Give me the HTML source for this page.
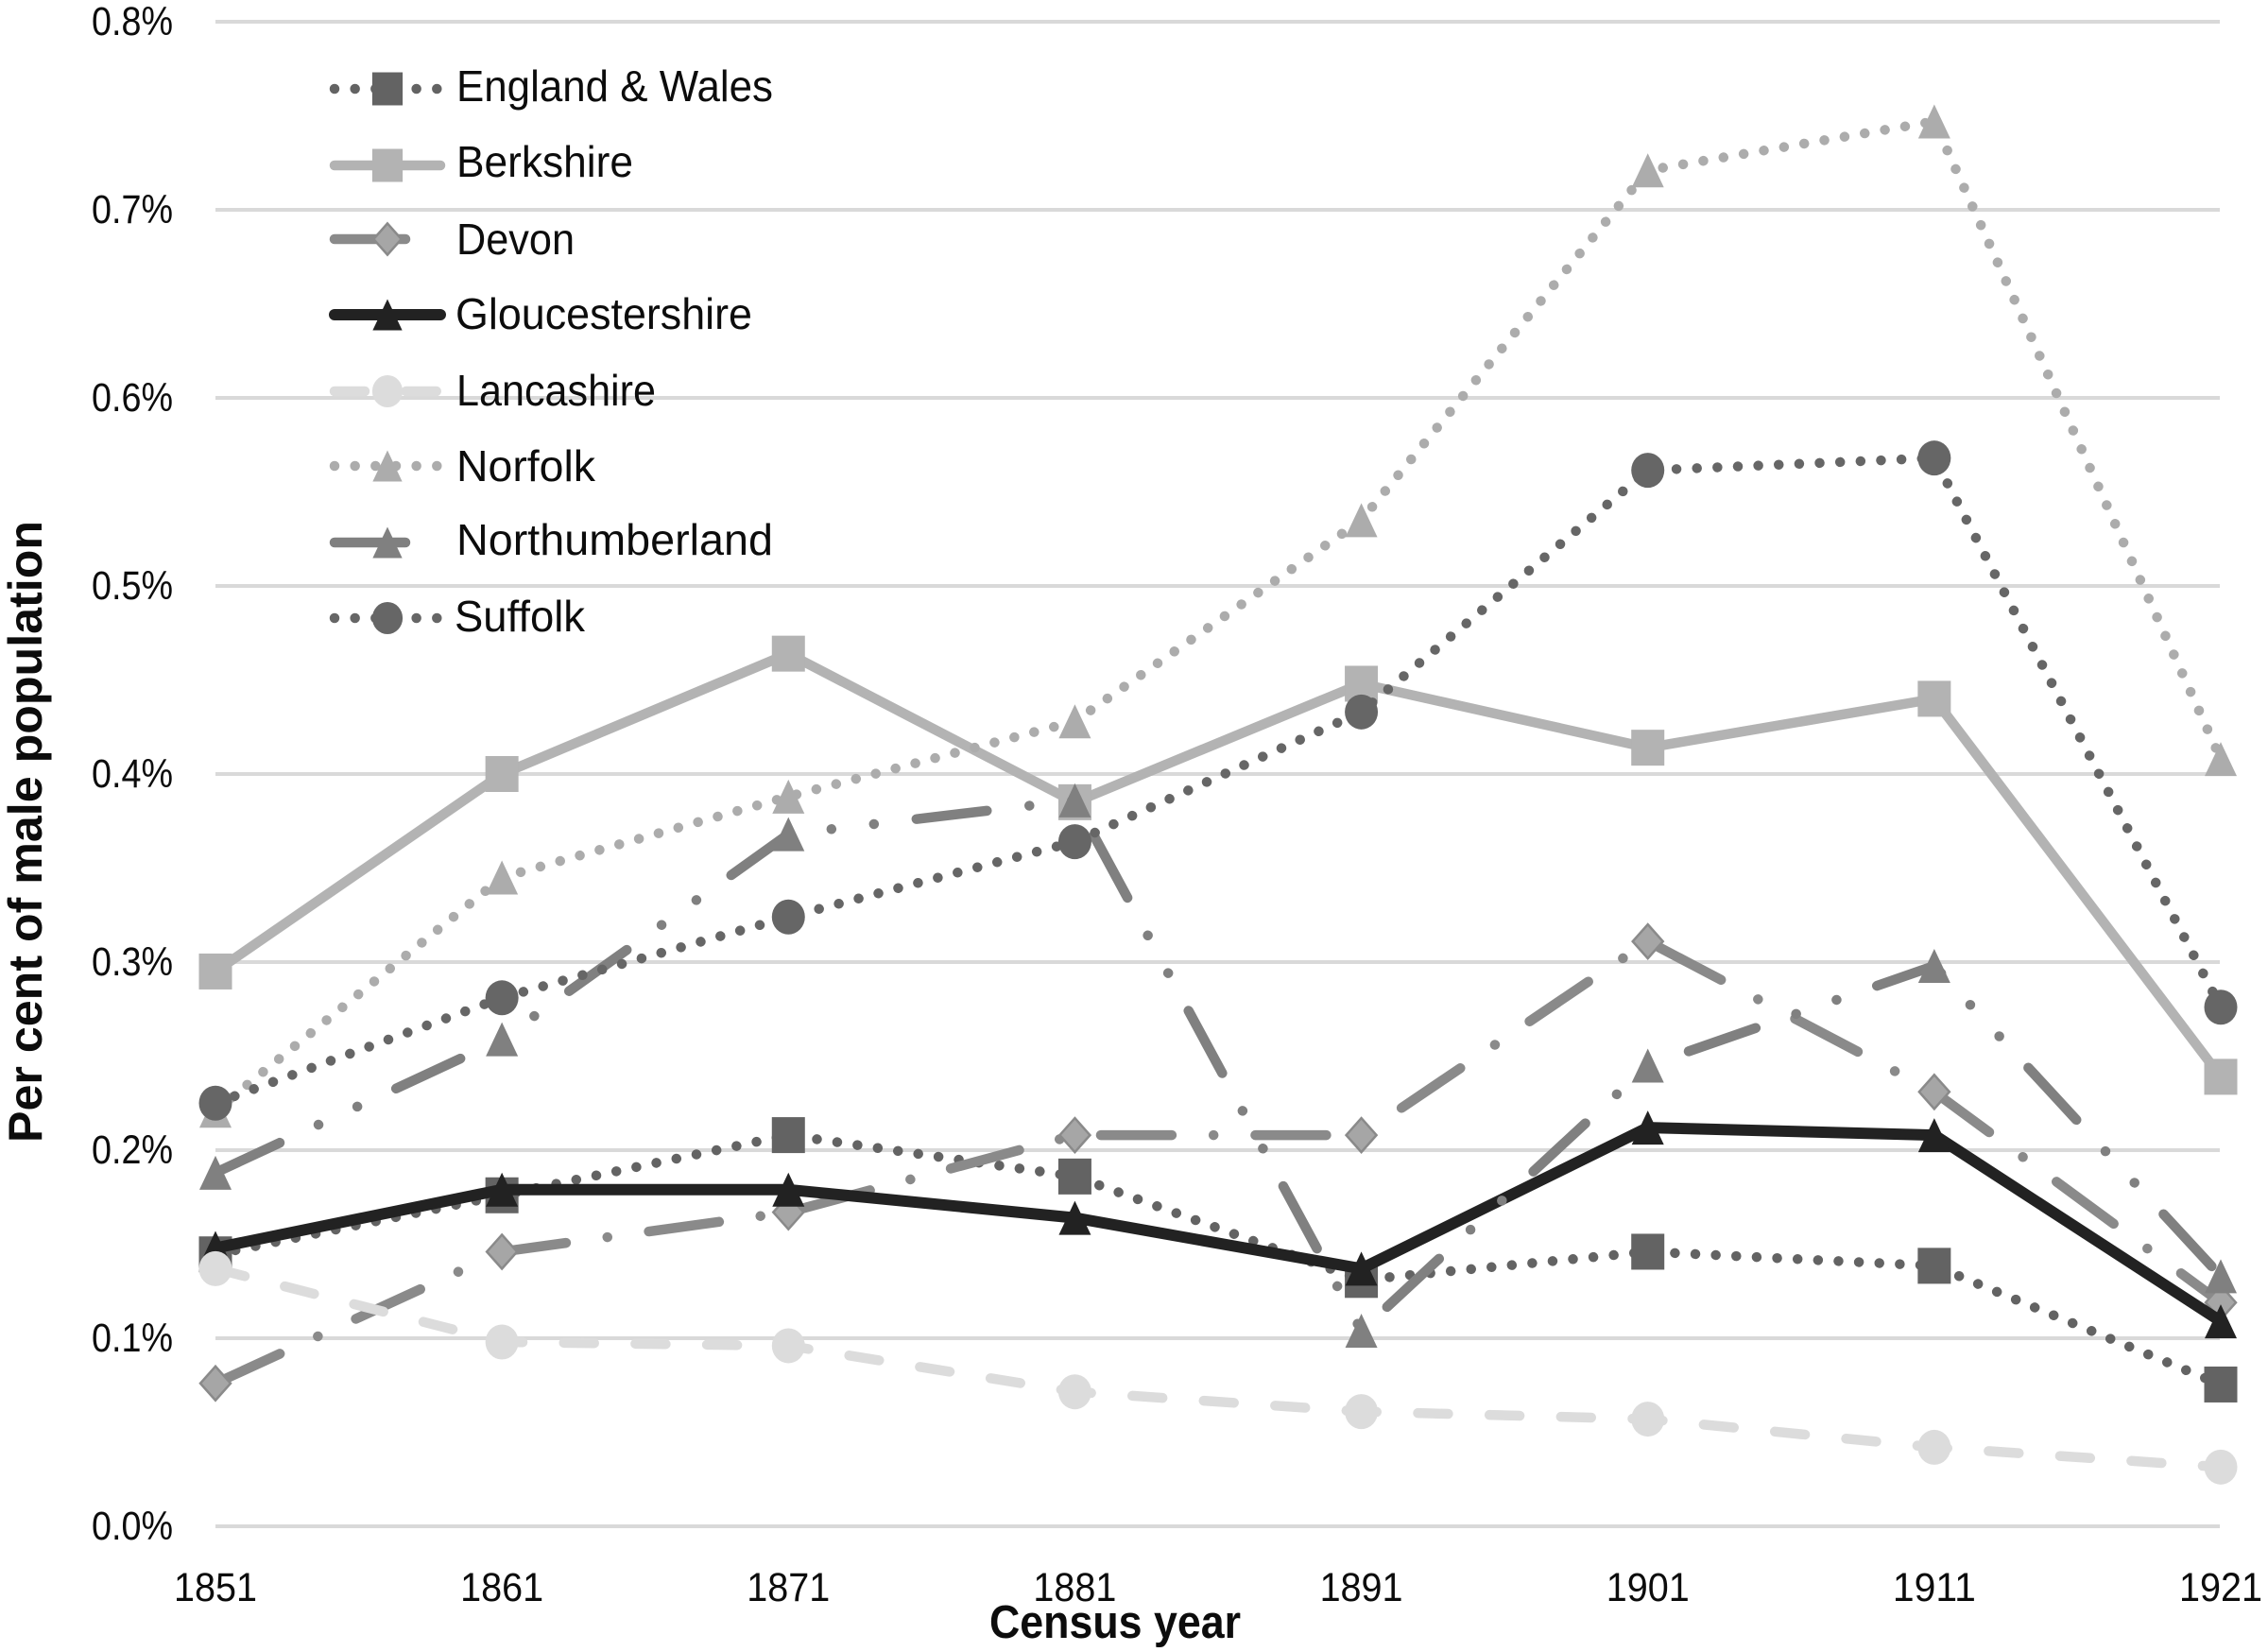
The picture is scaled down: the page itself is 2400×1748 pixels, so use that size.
<!DOCTYPE html>
<html lang="en">
<head>
<meta charset="utf-8">
<title>Per cent of male population by census year</title>
<style>
html,body{margin:0;padding:0;background:#fff;}
svg{display:block;}
text{font-family:"Liberation Sans",sans-serif;fill:#0c0c0c;}
</style>
</head>
<body>
<svg id="chart" xmlns="http://www.w3.org/2000/svg" width="2400" height="1748" viewBox="0 0 2400 1748">
<rect x="0" y="0" width="2400" height="1748" fill="#ffffff"/>
<g id="grid"></g>
<g id="yticks"></g>
<g id="xticks"></g>
<g id="series"></g>
<g id="legend"></g>
<text transform="translate(44 880) rotate(-90)" text-anchor="middle" font-size="50" font-weight="bold" textLength="658" lengthAdjust="spacingAndGlyphs">Per cent of male population</text>
<text x="1047" y="1733" font-size="49" font-weight="bold" textLength="266" lengthAdjust="spacingAndGlyphs">Census year</text>
</svg>
<script>
const categories = ["1851","1861","1871","1881","1891","1901","1911","1921"];
const yTicks = [0,0.1,0.2,0.3,0.4,0.5,0.6,0.7,0.8];
const yTickLabels = ["0.0%","0.1%","0.2%","0.3%","0.4%","0.5%","0.6%","0.7%","0.8%"];
const englandWales = [0.1446,0.176,0.208,0.186,0.131,0.146,0.1385,0.0754];
const berkshire = [0.295,0.40,0.464,0.385,0.448,0.414,0.44,0.239];
const devon = [0.076,0.146,0.167,0.208,0.208,0.311,0.231,0.119];
const gloucestershire = [0.148,0.179,0.179,0.164,0.137,0.212,0.208,0.109];
const lancashire = [0.137,0.098,0.096,0.0715,0.061,0.057,0.042,0.0315];
const norfolk = [0.221,0.345,0.388,0.428,0.535,0.721,0.747,0.408];
const northumberland = [0.188,0.259,0.368,0.386,0.104,0.245,0.298,0.133];
const suffolk = [0.225,0.281,0.324,0.364,0.433,0.5615,0.568,0.276];
const seriesNames = ["England & Wales","Berkshire","Devon","Gloucestershire","Lancashire","Norfolk","Northumberland","Suffolk"];

const NS = "http://www.w3.org/2000/svg";
const plot = {left:228,right:2350,top:23,bottom:1615,max:0.8};
function xScale(i){return plot.left+(plot.right-plot.left)*i/(categories.length-1);}
function yScale(v){return plot.bottom-(plot.bottom-plot.top)*v/plot.max;}

const DOT="0.01 21.65", DASHDOT="75 44.25 0.01 44.25", DASHDOTDOT="75 45.3 0.01 45.3 0.01 45.3", DASH="32 43.7";
const styles=[
 {vals:englandWales,color:"#636363",fill:"#636363",w:10.5,dash:DOT,m:"square"},
 {vals:berkshire,color:"#b3b3b3",fill:"#b3b3b3",w:10.5,dash:null,m:"square"},
 {vals:devon,color:"#8a8a8a",fill:"#a6a6a6",w:10.5,dash:DASHDOT,m:"diamond"},
 {vals:gloucestershire,color:"#222222",fill:"#222222",w:12,dash:null,m:"triangle"},
 {vals:lancashire,color:"#dcdcdc",fill:"#dcdcdc",w:10.5,dash:DASH,m:"circle"},
 {vals:norfolk,color:"#acacac",fill:"#acacac",w:10.5,dash:DOT,m:"triangle"},
 {vals:northumberland,color:"#808080",fill:"#808080",w:10.5,dash:DASHDOTDOT,m:"triangle"},
 {vals:suffolk,color:"#666666",fill:"#666666",w:10.5,dash:DOT,m:"circle"}
];
const legendBaselines=[107,187,269,348,429,509,587,668];
const legendLineY=[94,175,253,333,414,493,574,654];
const legendTextX=[483,483,483,482,483,483,483,481];
const legendTextW=[335,187,125,314,211,147,335,138];

function slug(s){return s.toLowerCase().replace(/[^a-z]+/g,"-");}

function drawMarker(parent,type,cx,cy,st,k,name){
  let el;
  if(type==="square"){
    el=document.createElementNS(NS,"rect");
    el.setAttribute("x",cx-17.5*k);
    el.setAttribute("y",cy-19*k);
    el.setAttribute("width",35*k);
    el.setAttribute("height",38*k);
  }else if(type==="circle"){
    el=document.createElementNS(NS,"ellipse");
    el.setAttribute("cx",cx);
    el.setAttribute("cy",cy);
    el.setAttribute("rx",17.5*k);
    el.setAttribute("ry",18.5*k);
  }else if(type==="diamond"){
    el=document.createElementNS(NS,"polygon");
    el.setAttribute("points",[cx,cy-18*k,cx+16*k,cy,cx,cy+18*k,cx-16*k,cy].join(" "));
    el.setAttribute("stroke",st.color);
    el.setAttribute("stroke-width",2.5);
  }else{
    el=document.createElementNS(NS,"polygon");
    el.setAttribute("points",[cx,cy-18*k,cx+17*k,cy+18*k,cx-17*k,cy+18*k].join(" "));
  }
  el.setAttribute("fill",st.fill);
  
  
  parent.appendChild(el);
}

function addLine(parent,pts,st,name){
  const p=document.createElementNS(NS,"polyline");
  p.setAttribute("points",pts);
  p.setAttribute("fill","none");
  p.setAttribute("stroke",st.color);
  p.setAttribute("stroke-width",st.w);
  p.setAttribute("stroke-linecap","round");
  p.setAttribute("stroke-linejoin","round");
  if(st.dash){p.setAttribute("stroke-dasharray",st.dash);}
  
  
  parent.appendChild(p);
}

function addText(parent,x,y,size,str,w,name){
  const t=document.createElementNS(NS,"text");
  t.setAttribute("x",x);
  t.setAttribute("y",y);
  t.setAttribute("font-size",size);
  t.setAttribute("textLength",w);
  t.setAttribute("lengthAdjust","spacingAndGlyphs");
  t.textContent=str;
  
  
  parent.appendChild(t);
}

const gridG=document.getElementById("grid");
const yG=document.getElementById("yticks");
yTicks.forEach(function(v,i){
  const l=document.createElementNS(NS,"line");
  l.setAttribute("x1",plot.left);
  l.setAttribute("x2",plot.right-1);
  l.setAttribute("y1",yScale(v));
  l.setAttribute("y2",yScale(v));
  l.setAttribute("stroke","#d9d9d9");
  l.setAttribute("stroke-width",4);
  
  
  gridG.appendChild(l);
  addText(yG,97,yScale(v)+14,43,yTickLabels[i],86,"y-tick-label-"+i);
});

const xG=document.getElementById("xticks");
categories.forEach(function(c,i){
  addText(xG,xScale(i)-44,1694,43,c,88,"x-tick-label-"+c);
});

const sG=document.getElementById("series");
styles.forEach(function(st,s){
  const g=document.createElementNS(NS,"g");
  
  
  sG.appendChild(g);
  const pts=st.vals.map(function(v,i){return xScale(i)+","+yScale(v);}).join(" ");
  addLine(g,pts,st,"line-"+slug(seriesNames[s]));
  st.vals.forEach(function(v,i){
    drawMarker(g,st.m,xScale(i),yScale(v),st,1,"marker-"+slug(seriesNames[s])+"-"+categories[i]);
  });
});

const lG=document.getElementById("legend");
styles.forEach(function(st,s){
  const g=document.createElementNS(NS,"g");
  
  
  lG.appendChild(g);
  const y=legendLineY[s];
  addLine(g,"354,"+y+" 466,"+y,st,"legend-line-"+slug(seriesNames[s]));
  drawMarker(g,st.m,410,y,st,0.92,"legend-marker-"+slug(seriesNames[s]));
  addText(g,legendTextX[s],legendBaselines[s],46,seriesNames[s],legendTextW[s],"legend-label-"+slug(seriesNames[s]));
});
</script>
</body>
</html>
